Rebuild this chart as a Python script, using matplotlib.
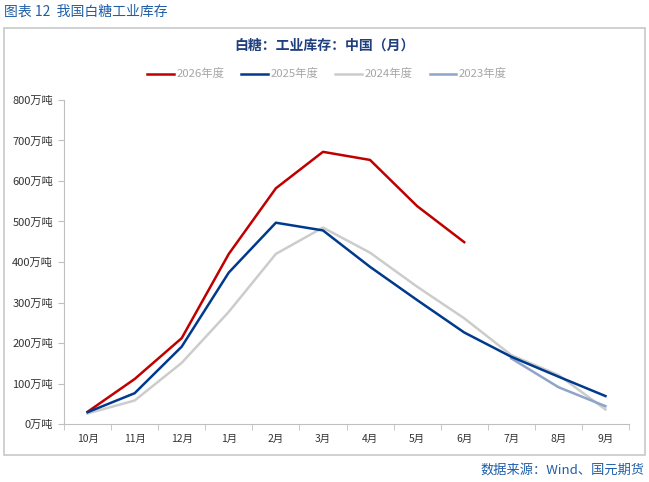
import matplotlib
matplotlib.use('Agg')
import matplotlib.pyplot as plt
from matplotlib.patches import Rectangle
import numpy as np

plt.rcParams['font.family'] = ['Noto Sans CJK SC', 'DejaVu Sans']

# data (万吨)
months = ['10月', '11月', '12月', '1月', '2月', '3月', '4月', '5月', '6月', '7月', '8月', '9月']
y2026 = [30, 111, 212, 420, 582, 672, 652, 538, 449]
y2025 = [29, 76, 191, 374, 497, 478, 388, 306, 226, 166, 117, 69]
y2024 = [26, 58, 151, 277, 420, 485, 423, 339, 261, 170, 121, 36]
y2023_months = ['7月', '8月', '9月']
y2023 = [162, 91, 44]
yticks = [0, 100, 200, 300, 400, 500, 600, 700, 800]

W, H = 649, 482
fig = plt.figure(figsize=(W / 100, H / 100), dpi=100)

# outer frame
fig.patches.append(Rectangle((4 / W, (H - 455) / H), 641 / W, 427 / H,
                             transform=fig.transFigure, fill=False,
                             edgecolor='#c8c8c8', linewidth=1.2))

fig.text(4 / W, 1 - 12 / H, '图表 12  我国白糖工业库存', color='#1f5fa8',
         fontsize=10, va='center', ha='left')
fig.text(324 / W, 1 - 46 / H, '白糖：工业库存：中国（月）', color='#1f3f7f',
         fontsize=10, fontweight='bold', va='center', ha='center')
fig.text(645 / W, 1 - 470 / H, '数据来源：Wind、国元期货', color='#1f5fa8',
         fontsize=9.5, va='center', ha='right')

ax = fig.add_axes([64 / W, (H - 424) / H, (629 - 64) / W, (424 - 100) / H])
x = np.arange(len(months))
ax.plot(x[:len(y2026)], y2026, color='#c00000', lw=1.8, label='2026年度')
ax.plot(x, y2025, color='#003a8c', lw=1.8, label='2025年度', zorder=4)
ax.plot(x, y2024, color='#cccccc', lw=1.8, label='2024年度')
x23 = [months.index(m) for m in y2023_months]
ax.plot(x23, y2023, color='#8ea4c8', lw=1.8, label='2023年度')

ax.set_xlim(-0.5, len(months) - 0.5)
ax.set_ylim(0, 800)
ax.set_yticks(yticks)
ax.set_yticklabels([f'{v}万吨' for v in yticks])
ax.set_xticks(x)
ax.set_xticklabels(months)
ax.set_xticks(np.arange(-0.5, len(months)), minor=True)
ax.tick_params(axis='x', which='major', length=0, pad=7)
ax.tick_params(axis='x', which='minor', length=4, color='#bfbfbf')
ax.tick_params(axis='y', length=4, color='#bfbfbf', pad=4)
ax.tick_params(axis='y', labelsize=8, labelcolor='#333333')
ax.tick_params(axis='x', labelsize=7.5, labelcolor='#333333')
for s in ['top', 'right']:
    ax.spines[s].set_visible(False)
ax.spines['left'].set_color('#bfbfbf')
ax.spines['bottom'].set_color('#bfbfbf')

leg = ax.legend(loc='center', bbox_to_anchor=((327 - 64) / 565, 1 + 26 / 324), ncol=4,
                frameon=False, fontsize=8.2, handlelength=2.35, columnspacing=1.5,
                handletextpad=0.2)
for t in leg.get_texts():
    t.set_color('#a6a6a6')

fig.savefig('out.png', dpi=100)
